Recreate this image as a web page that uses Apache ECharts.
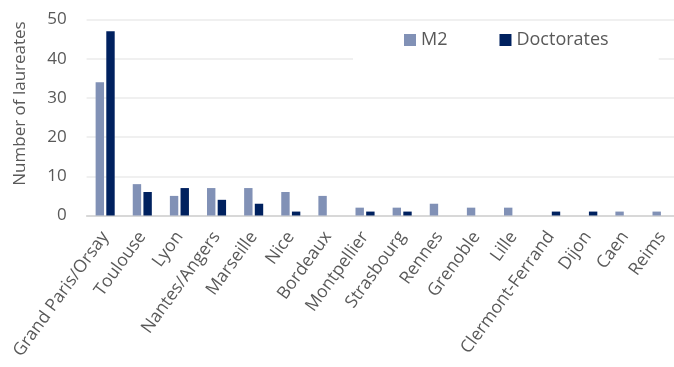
<!DOCTYPE html>
<html>
<head>
<meta charset="utf-8">
<script src="https://cdn.jsdelivr.net/npm/echarts@6/dist/echarts.min.js"></script>
<style>
  html, body { margin: 0; padding: 0; background: #fff; }
  #chart { width: 674px; height: 367px; }
</style>
</head>
<body>
<div id="chart"></div>
<script>
  // values
  let cities = ["Grand Paris/Orsay", "Toulouse", "Lyon", "Nantes/Angers", "Marseille", "Nice",
    "Bordeaux", "Montpellier", "Strasbourg", "Rennes", "Grenoble", "Lille",
    "Clermont-Ferrand", "Dijon", "Caen", "Reims"];
  let m2 = [34, 8, 5, 7, 7, 6, 5, 2, 2, 3, 2, 2, 0, 0, 1, 1];
  let doctorates = [47, 6, 7, 4, 3, 1, 0, 1, 1, 0, 0, 0, 1, 1, 0, 0];

  let font = "Open Sans";
  let grey = "#595959";

  let myChart = echarts.init(document.getElementById("chart"));
  myChart.setOption({
    animation: false,
    textStyle: { fontFamily: font },
    legend: {
      left: 353,
      top: 23,
      padding: [8, 50, 12, 51],
      backgroundColor: "#fff",
      itemWidth: 12,
      itemHeight: 12,
      itemGap: 52,
      icon: "rect",
      textStyle: { fontSize: 18, color: grey, fontFamily: font },
      data: ["M2", "Doctorates"]
    },
    grid: {
      left: 86.6,
      top: 19.5,
      width: 594,
      height: 196,
      outerBoundsMode: "none"
    },
    xAxis: {
      type: "category",
      data: cities,
      axisTick: { show: false },
      axisLine: { lineStyle: { color: "#D0D0D0", width: 1.5 } },
      axisLabel: {
        interval: 0,
        rotate: 54,
        fontSize: 17.5,
        color: grey,
        margin: 18
      }
    },
    yAxis: {
      type: "value",
      min: 0,
      max: 50,
      interval: 10,
      name: "Number of laureates",
      nameLocation: "middle",
      nameGap: 58,
      nameTextStyle: { fontSize: 17, color: grey, padding: [0, 0, 0, 28] },
      axisLine: { show: false },
      axisTick: { show: false },
      axisLabel: { fontSize: 17, color: grey, margin: 20 },
      splitLine: { lineStyle: { color: "#EBEBEB", width: 1.5 } }
    },
    series: [
      {
        name: "M2",
        type: "bar",
        data: m2,
        barWidth: 8.4,
        barGap: "27%",
        itemStyle: { color: "#8191B6" }
      },
      {
        name: "Doctorates",
        type: "bar",
        data: doctorates,
        barWidth: 8.4,
        itemStyle: { color: "#00215F" }
      }
    ]
  });
</script>
</body>
</html>
